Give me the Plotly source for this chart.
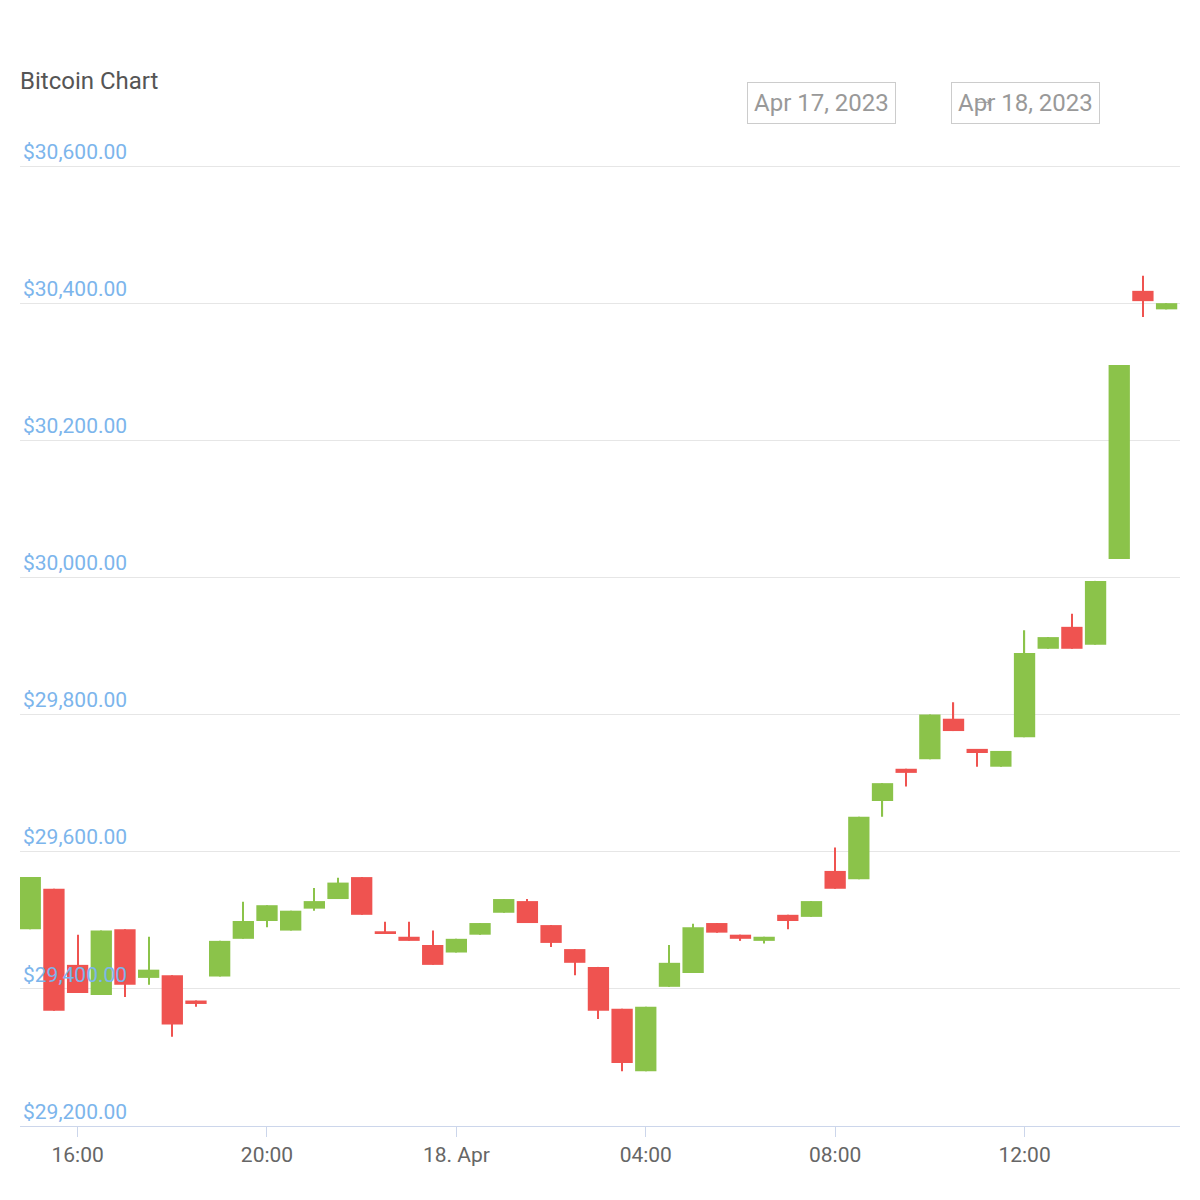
import plotly.graph_objects as go
import pandas as pd

times = pd.date_range("2023-04-17 15:00", "2023-04-18 15:00", freq="30min")
opens  = [29487,29546,29435,29391,29487,29416,29420,29383,29418,29473,29499,29485,29517,29531,29563,29483,29476,29464,29453,29479,29511,29528,29493,29458,29432,29371,29280,29403,29423,29496,29479,29470,29508,29505,29572,29560,29674,29721,29735,29794,29750,29724,29767,29896,29928,29902,30027,30418,30391]
closes = [29563,29368,29394,29485,29406,29428,29348,29378,29470,29499,29522,29514,29528,29555,29508,29480,29470,29435,29473,29496,29531,29496,29467,29438,29368,29292,29374,29438,29490,29482,29473,29476,29499,29528,29546,29651,29700,29715,29800,29776,29744,29747,29890,29913,29896,29995,30310,30403,30400]
highs  = [29563,29546,29479,29485,29487,29476,29420,29383,29470,29527,29522,29514,29547,29562,29563,29498,29498,29485,29473,29496,29531,29531,29493,29458,29432,29371,29374,29464,29495,29496,29479,29476,29508,29528,29606,29651,29700,29721,29800,29818,29750,29747,29923,29913,29947,29995,30310,30440,30400]
lows   = [29487,29368,29394,29391,29388,29406,29330,29374,29418,29473,29490,29485,29514,29531,29508,29480,29470,29435,29453,29479,29511,29496,29461,29420,29356,29280,29280,29403,29423,29482,29470,29466,29487,29505,29546,29560,29651,29695,29735,29776,29724,29724,29767,29896,29896,29902,30027,30380,30391]
ytickvals = [29200, 29400, 29600, 29800, 30000, 30200, 30400, 30600]
yticktext = ["$" + format(v, ",.2f") for v in ytickvals]
xtickvals = ["2023-04-17 16:00", "2023-04-17 20:00", "2023-04-18 00:00",
             "2023-04-18 04:00", "2023-04-18 08:00", "2023-04-18 12:00"]
xticktext = ["16:00", "20:00", "18. Apr", "04:00", "08:00", "12:00"]

GREEN, RED = "#8bc34a", "#ef5350"
cols = [GREEN if c >= o else RED for o, c in zip(opens, closes)]
HALF = 30 * 60 * 1000

fig = go.Figure()
fig.add_trace(go.Bar(x=times, base=lows, y=[h - l for h, l in zip(highs, lows)],
                     width=[HALF * 0.05] * len(times), marker=dict(color=cols, line_width=0),
                     hoverinfo="skip"))
fig.add_trace(go.Bar(x=times, base=[min(o, c) for o, c in zip(opens, closes)],
                     y=[max(abs(c - o), 4) for o, c in zip(opens, closes)],
                     width=[HALF * 0.9] * len(times), marker=dict(color=cols, line_width=0)))

# plot area in page pixels (page offset by 8px body margin)
L, T, R, B = 12, 132, 28, 82
PW, PH = 1200 - L - R, 1200 - T - B
def px(x): return (x - 8 - L) / PW
def py(y): return (1200 - B - (y - 8)) / PH

fig.update_layout(
    width=1200, height=1200, showlegend=False, barmode="overlay",
    plot_bgcolor="white", paper_bgcolor="white",
    font=dict(family="Roboto", color="#666666"),
    margin=dict(l=L, r=R, t=T, b=B),
    title=dict(text="Bitcoin Chart", x=(20 - 8) / 1200, xanchor="left", y=1 - (81 - 8) / 1200, yanchor="middle",
               font=dict(size=24, color="#555555")),
    xaxis=dict(type="date", range=["2023-04-17 14:47", "2023-04-18 15:17"],
               tickvals=xtickvals, ticktext=xticktext, ticklabeloverflow="allow",
               showgrid=False, showline=True, linecolor="#ccd6eb", ticks="outside",
               ticklen=10, tickcolor="#ccd6eb", tickfont=dict(size=21, color="#666666")),
    yaxis=dict(range=[29200, 30638], tickvals=ytickvals, ticktext=yticktext,
               ticklabelposition="inside top", ticklabeloverflow="allow",
               gridcolor="#e6e6e6", zeroline=False, tickfont=dict(size=21, color="#7cb5ec")),
    annotations=[
        dict(text="Apr 17, 2023", x=px(896), y=py(82), xref="paper", yref="paper",
             showarrow=False, bordercolor="#cccccc", borderwidth=1, borderpad=6,
             font=dict(size=24, color="#999999")),
        dict(text="→", x=px(998), y=py(82), xref="paper", yref="paper",
             showarrow=False, font=dict(size=24, color="#999999")),
        dict(text="Apr 18, 2023", x=px(1100), y=py(82), xref="paper", yref="paper",
             showarrow=False, bordercolor="#cccccc", borderwidth=1, borderpad=6,
             font=dict(size=24, color="#999999")),
    ],
)
fig.write_html("out.html")
